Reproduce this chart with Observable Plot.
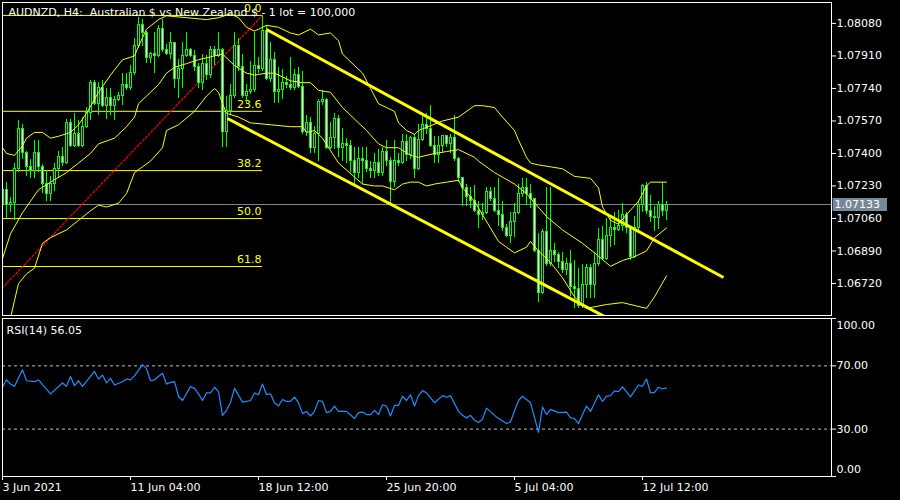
<!DOCTYPE html>
<html><head><meta charset="utf-8">
<script src="https://cdn.jsdelivr.net/npm/d3@7"></script>
<script src="https://cdn.jsdelivr.net/npm/@observablehq/plot@0.6"></script>
<style>
html,body{margin:0;padding:0;background:#000;overflow:hidden;}
#chart svg{display:block;}
</style></head><body><div id="chart"></div>
<script>
// ---- data (H4 bars, index 0 = 3 Jun 20:00) ----
const openP = [1.0713,1.0721,1.0713,1.0714,1.0732,1.0753,1.0740,1.0733,1.0731,1.0740,
1.0733,1.0724,1.0719,1.0724,1.0732,1.0738,1.0735,1.0756,1.0744,1.0750,
1.0744,1.0754,1.0761,1.0777,1.0766,1.0774,1.0765,1.0769,1.0765,1.0768,
1.0770,1.0776,1.0774,1.0782,1.0796,1.0807,1.0803,1.0790,1.0792,1.0791,
1.0805,1.0794,1.0792,1.0798,1.0779,1.0784,1.0791,1.0794,1.0791,1.0785,
1.0777,1.0787,1.0781,1.0794,1.0791,1.0794,1.0751,1.0762,1.0770,1.0796,
1.0785,1.0770,1.0772,1.0773,1.0786,1.0784,1.0804,1.0779,1.0789,1.0772,
1.0773,1.0777,1.0776,1.0774,1.0781,1.0775,1.0751,1.0756,1.0743,1.0750,
1.0767,1.0768,1.0743,1.0748,1.0758,1.0743,1.0745,1.0744,1.0736,1.0730,
1.0737,1.0736,1.0732,1.0731,1.0735,1.0730,1.0741,1.0736,1.0725,1.0736,
1.0735,1.0746,1.0739,1.0748,1.0732,1.0747,1.0755,1.0753,1.0744,1.0739,
1.0744,1.0749,1.0745,1.0748,1.0737,1.0727,1.0722,1.0717,1.0715,1.0710,
1.0708,1.0709,1.0720,1.0716,1.0710,1.0708,1.0701,1.0697,1.0704,1.0709,
1.0719,1.0722,1.0719,1.0716,1.0689,1.0667,1.0699,1.0682,1.0689,1.0687,
1.0683,1.0679,1.0682,1.0670,1.0669,1.0660,1.0671,1.0680,1.0671,1.0682,
1.0695,1.0685,1.0697,1.0701,1.0700,1.0702,1.0708,1.0701,1.0686,1.0701,
1.0713,1.0723,1.0710,1.0707,1.0706,1.0713,1.0710];
const highP = [1.0723,1.0725,1.0717,1.0735,1.0757,1.0755,1.0741,1.0737,1.0747,1.0747,
1.0734,1.0731,1.0728,1.0735,1.0741,1.0743,1.0758,1.0758,1.0761,1.0757,
1.0759,1.0764,1.0778,1.0778,1.0777,1.0778,1.0774,1.0774,1.0770,1.0772,
1.0782,1.0782,1.0786,1.0800,1.0811,1.0810,1.0804,1.0793,1.0803,1.0807,
1.0810,1.0797,1.0803,1.0798,1.0789,1.0798,1.0803,1.0795,1.0794,1.0787,
1.0792,1.0791,1.0796,1.0796,1.0803,1.0795,1.0770,1.0776,1.0803,1.0800,
1.0792,1.0776,1.0788,1.0803,1.0790,1.0812,1.0807,1.0798,1.0793,1.0785,
1.0784,1.0780,1.0790,1.0784,1.0785,1.0783,1.0760,1.0759,1.0754,1.0768,
1.0773,1.0769,1.0756,1.0761,1.0760,1.0753,1.0748,1.0747,1.0743,1.0743,
1.0743,1.0743,1.0736,1.0740,1.0742,1.0743,1.0747,1.0738,1.0747,1.0740,
1.0750,1.0750,1.0749,1.0750,1.0755,1.0760,1.0761,1.0765,1.0749,1.0749,
1.0749,1.0749,1.0750,1.0760,1.0738,1.0727,1.0724,1.0722,1.0723,1.0715,
1.0714,1.0722,1.0722,1.0722,1.0727,1.0715,1.0703,1.0709,1.0714,1.0724,
1.0727,1.0727,1.0724,1.0716,1.0698,1.0700,1.0722,1.0722,1.0693,1.0688,
1.0688,1.0685,1.0689,1.0684,1.0680,1.0682,1.0682,1.0682,1.0688,1.0701,
1.0702,1.0706,1.0707,1.0709,1.0710,1.0714,1.0709,1.0702,1.0707,1.0715,
1.0724,1.0725,1.0718,1.0712,1.0715,1.0725,1.0715];
const lowP = [1.0702,1.0706,1.0709,1.0705,1.0730,1.0737,1.0728,1.0727,1.0727,1.0730,
1.0719,1.0715,1.0715,1.0720,1.0727,1.0733,1.0734,1.0743,1.0743,1.0743,
1.0743,1.0753,1.0757,1.0765,1.0760,1.0764,1.0758,1.0760,1.0757,1.0767,
1.0765,1.0773,1.0773,1.0781,1.0795,1.0796,1.0787,1.0787,1.0782,1.0790,
1.0793,1.0791,1.0789,1.0774,1.0769,1.0774,1.0790,1.0790,1.0783,1.0774,
1.0773,1.0778,1.0779,1.0786,1.0790,1.0743,1.0743,1.0760,1.0769,1.0783,
1.0769,1.0766,1.0771,1.0772,1.0782,1.0783,1.0778,1.0777,1.0766,1.0766,
1.0768,1.0774,1.0773,1.0773,1.0774,1.0750,1.0749,1.0740,1.0740,1.0736,
1.0765,1.0742,1.0742,1.0742,1.0738,1.0736,1.0735,1.0730,1.0723,1.0727,
1.0724,1.0730,1.0727,1.0727,1.0728,1.0728,1.0733,1.0714,1.0722,1.0733,
1.0734,1.0736,1.0737,1.0727,1.0731,1.0746,1.0750,1.0743,1.0735,1.0735,
1.0740,1.0743,1.0740,1.0736,1.0725,1.0712,1.0712,1.0711,1.0709,1.0701,
1.0705,1.0708,1.0715,1.0709,1.0702,1.0699,1.0696,1.0693,1.0696,1.0708,
1.0717,1.0713,1.0711,1.0688,1.0662,1.0666,1.0681,1.0681,1.0683,1.0680,
1.0677,1.0676,1.0665,1.0659,1.0659,1.0659,1.0664,1.0664,1.0664,1.0681,
1.0684,1.0684,1.0691,1.0692,1.0699,1.0699,1.0698,1.0684,1.0685,1.0698,
1.0709,1.0708,1.0704,1.0699,1.0700,1.0707,1.0705];
const closeP = [1.0721,1.0713,1.0714,1.0732,1.0753,1.0740,1.0733,1.0731,1.0740,1.0733,
1.0724,1.0719,1.0724,1.0732,1.0738,1.0735,1.0756,1.0744,1.0750,1.0744,
1.0754,1.0761,1.0777,1.0766,1.0774,1.0765,1.0769,1.0765,1.0768,1.0770,
1.0776,1.0774,1.0782,1.0796,1.0807,1.0803,1.0790,1.0792,1.0791,1.0805,
1.0794,1.0792,1.0798,1.0779,1.0784,1.0791,1.0794,1.0791,1.0785,1.0777,
1.0787,1.0781,1.0794,1.0791,1.0794,1.0751,1.0762,1.0770,1.0796,1.0785,
1.0770,1.0772,1.0773,1.0786,1.0784,1.0804,1.0779,1.0789,1.0772,1.0773,
1.0777,1.0776,1.0774,1.0781,1.0775,1.0751,1.0756,1.0743,1.0750,1.0767,
1.0768,1.0743,1.0748,1.0758,1.0743,1.0745,1.0744,1.0736,1.0730,1.0737,
1.0736,1.0732,1.0731,1.0735,1.0730,1.0741,1.0736,1.0725,1.0736,1.0735,
1.0746,1.0739,1.0748,1.0732,1.0747,1.0755,1.0753,1.0744,1.0739,1.0744,
1.0749,1.0745,1.0748,1.0737,1.0727,1.0722,1.0717,1.0715,1.0710,1.0708,
1.0709,1.0720,1.0716,1.0710,1.0708,1.0701,1.0697,1.0704,1.0709,1.0719,
1.0722,1.0719,1.0716,1.0689,1.0667,1.0699,1.0682,1.0689,1.0687,1.0683,
1.0679,1.0682,1.0670,1.0669,1.0660,1.0671,1.0680,1.0671,1.0682,1.0695,
1.0685,1.0697,1.0701,1.0700,1.0702,1.0708,1.0701,1.0686,1.0701,1.0713,
1.0723,1.0710,1.0707,1.0706,1.0713,1.0710,1.07133];

// Bollinger-style envelope lines: [bar index, price]
const upperBand = [[0,1.0743],[1,1.0740],[3,1.0739],[5,1.0744],[6,1.0748],[8,1.0751],[10,1.0751],[12,1.0748],[14,1.0749],[17,1.0751],[19,1.0755],[21,1.0761],[24,1.0772],[27,1.0781],[30,1.0789],[33,1.0791],[34,1.0796],[36,1.0805],[39,1.0810],[41,1.0812],[46,1.0811],[51,1.0810],[54,1.0811],[57,1.0813],[59,1.0811],[61,1.0806],[63,1.0804],[64,1.0805],[66,1.0807],[69,1.0806],[72,1.0803],[74,1.0802],[77,1.0805],[79,1.0802],[82,1.0803],[84,1.0799],[85,1.0792],[88,1.0786],[90,1.0782],[92,1.0774],[94,1.0766],[96,1.0764],[98,1.0762],[99,1.0756],[101,1.0752],[103,1.0750],[104,1.0752],[110,1.0757],[114,1.0759],[118,1.0765],[120,1.0765],[123,1.0764],[125,1.0759],[128,1.0752],[129,1.0747],[131,1.0738],[132,1.0735],[134,1.0734],[140,1.0732],[143,1.0728],[147,1.0727],[149,1.0722],[150,1.0712],[152,1.0705],[154,1.0703],[156,1.0708],[159,1.0715],[161,1.0723],[162,1.0725],[166,1.0725]];
const middleBand = [[0,1.0685],[2,1.0698],[5,1.0709],[7,1.0715],[9,1.0721],[12,1.0725],[16,1.0730],[19,1.0735],[22,1.0740],[24,1.0745],[28,1.0748],[31,1.0754],[33,1.0759],[34,1.0766],[36,1.0770],[39,1.0776],[41,1.0782],[43,1.0785],[46,1.0787],[49,1.0789],[53,1.0791],[55,1.0792],[58,1.0786],[61,1.0782],[63,1.0781],[66,1.0782],[68,1.0782],[70,1.0780],[72,1.0778],[75,1.0777],[77,1.0777],[79,1.0773],[82,1.0772],[85,1.0764],[89,1.0756],[91,1.0752],[94,1.0745],[96,1.0743],[99,1.0743],[102,1.0739],[104,1.0738],[108,1.0740],[111,1.0741],[114,1.0742],[118,1.0738],[119,1.0736],[123,1.0730],[128,1.0724],[131,1.0719],[136,1.0707],[140,1.0700],[145,1.0693],[148,1.0688],[152,1.0681],[155,1.0684],[158,1.0686],[161,1.0689],[163,1.0696],[166,1.0701]];
const lowerBand = [[2,1.0654],[3,1.0663],[4,1.0672],[6,1.0677],[8,1.0680],[10,1.0693],[12,1.0696],[16,1.0700],[19,1.0705],[22,1.0710],[24,1.0713],[26,1.0712],[29,1.0714],[31,1.0719],[33,1.0730],[35,1.0733],[37,1.0736],[40,1.0743],[41,1.0752],[44,1.0755],[48,1.0762],[51,1.0770],[53,1.0774],[54,1.0772],[55,1.0766],[56,1.0761],[59,1.0759],[62,1.0756],[67,1.0755],[72,1.0754],[75,1.0754],[76,1.0751],[78,1.0752],[80,1.0748],[84,1.0735],[90,1.0724],[93,1.0723],[95,1.0723],[98,1.0721],[100,1.0724],[102,1.0725],[104,1.0725],[106,1.0723],[108,1.0724],[111,1.0725],[114,1.0726],[115,1.0722],[118,1.0715],[120,1.0708],[122,1.0701],[124,1.0694],[126,1.0691],[128,1.0688],[131,1.0691],[132,1.0694],[134,1.0689],[137,1.0683],[140,1.0675],[143,1.0665],[146,1.0659],[151,1.0661],[155,1.0662],[161,1.0659],[163,1.0665],[166,1.0676]];

// RSI(14): [bar index, value]
const rsiPoints = [[0,56.5],[1,61.2],[2,58.5],[3,57.1],[5,67.5],[6,60.6],[8,60.0],[9,61.2],[12,52.3],[15,59.2],[16,57.1],[17,63.3],[18,57.5],[19,60.6],[20,57.1],[23,66.5],[24,61.7],[25,64.2],[26,59.2],[27,62.1],[28,57.9],[30,60.0],[31,61.7],[32,61.2],[33,63.7],[35,70.8],[36,68.3],[37,60.6],[38,61.2],[40,65.4],[41,58.5],[42,59.6],[43,60.0],[44,50.8],[45,48.1],[47,56.9],[48,55.8],[49,52.3],[50,48.1],[51,52.9],[52,52.9],[53,56.5],[54,53.7],[55,38.7],[56,41.9],[57,46.7],[58,55.8],[60,47.1],[61,47.5],[62,48.1],[63,52.9],[64,51.7],[65,58.5],[66,51.9],[67,52.3],[68,46.7],[69,44.6],[70,48.7],[71,47.5],[72,47.5],[73,50.2],[74,46.7],[75,39.8],[76,41.2],[77,38.3],[78,41.2],[79,48.1],[80,47.5],[81,40.4],[82,41.2],[83,44.6],[84,41.2],[86,41.2],[88,36.7],[89,40.4],[90,40.8],[91,39.2],[92,39.2],[93,41.9],[94,39.2],[95,45.4],[96,44.6],[97,38.3],[98,45.0],[99,45.0],[100,50.8],[101,48.1],[102,51.7],[103,44.6],[104,51.2],[105,54.4],[106,52.9],[108,46.7],[110,51.2],[111,50.2],[112,51.2],[114,41.2],[115,38.7],[116,37.1],[117,38.7],[118,35.6],[119,34.2],[120,36.2],[121,43.3],[123,38.7],[124,36.7],[126,33.5],[127,34.6],[129,48.1],[130,50.8],[132,46.7],[134,27.9],[135,44.0],[136,39.2],[137,42.5],[139,40.4],[141,40.8],[142,37.1],[143,36.7],[144,33.5],[146,44.6],[147,41.2],[149,51.7],[150,47.5],[151,50.8],[152,51.2],[153,54.2],[154,53.7],[155,56.7],[157,50.4],[159,57.9],[160,57.1],[161,61.7],[162,52.9],[163,53.3],[164,56.5],[165,55.4],[166,56.05]];
const rsiLast = 56.05;

const priceTicks = [1.0808, 1.0791, 1.0774, 1.0757, 1.0740, 1.0723, 1.0706, 1.0689, 1.0672];
const rsiTicks = [0, 30, 70, 100];
const rsiLevels = [30, 70];
const timeTickIdx = [0, 32, 64, 96, 128, 160];
const timeTickLabels = ["3 Jun 2021", "11 Jun 04:00", "18 Jun 12:00", "25 Jun 20:00", "5 Jul 04:00", "12 Jul 12:00"];

// Fibonacci retracement anchors
const fibLevels = [0, 23.6, 38.2, 50.0, 61.8];
const fibLowIdx = -32, fibLowPrice = 1.05997;
const fibHighIdx = 65, fibHighPrice = 1.08122;

// Channel (two trend lines)
const chanStartIdx = [66, 56.25];
const chanStartPrice = [1.08048, 1.07583];
const chanEndIdx = [180.25, 160];
const chanEndPrice = [1.06751, 1.06443];

const lastPrice = 1.07133;
const titleText = "AUDNZD, H4:  Australian $ vs New Zealand $ - 1 lot = 100,000";
const rsiTitle = "RSI(14) " + rsiLast.toFixed(2);

// ---- build ----
const xDomain = [0, 207.25];
const priceDomain = [1.0655255, 1.081895];
const FONT = {background: "#000", color: "#fff", fontFamily: "DejaVu Sans", fontSize: "11px"};

const bars = openP.map((o, i) => ({i, o, h: highP[i], l: lowP[i], c: closeP[i]}));
const fibRows = fibLevels.map(level => ({level, price: fibHighPrice - (fibHighPrice - fibLowPrice) * level / 100}));
const chanRows = chanStartIdx.map((s, k) => ({i1: s, p1: chanStartPrice[k], i2: chanEndIdx[k], p2: chanEndPrice[k]}));
const labelMap = new Map(timeTickIdx.map((d, k) => [d, timeTickLabels[k]]));

const YEL = "#ffff00", LIME = "#00ff00", GRAY = "#778899";

const main = Plot.plot({
  width: 900, height: 318,
  marginLeft: 2, marginRight: 69, marginTop: 2, marginBottom: 3,
  style: FONT,
  x: {domain: xDomain, axis: null, label: null},
  y: {domain: priceDomain, axis: null, label: null},
  marks: [
    Plot.ruleY([lastPrice], {y: d => d, stroke: GRAY}),
    Plot.ruleY(fibRows, {y: "price", x1: () => fibLowIdx, x2: () => fibHighIdx, stroke: YEL, clip: true}),
    Plot.link([0], {x1: () => fibLowIdx, y1: () => fibLowPrice, x2: () => fibHighIdx, y2: () => fibHighPrice, stroke: "#ff0000", strokeWidth: 1.2, strokeDasharray: "3,1", clip: true}),
    Plot.text(fibRows, {x: () => fibHighIdx, y: "price", text: d => d.level.toFixed(1), textAnchor: "end", dx: -1, dy: -7, fill: YEL}),
    Plot.ruleX(bars, {x: "i", y1: "l", y2: "h", stroke: LIME, shapeRendering: "crispEdges", clip: true}),
    Plot.rect(bars, {x1: d => d.i - 0.25, x2: d => d.i + 0.25, y1: "o", y2: "c", fill: d => d.c < d.o ? "#ffffff" : "#000000", stroke: LIME, shapeRendering: "crispEdges", clip: true}),
    Plot.line(upperBand, {x: d => d[0], y: d => d[1], stroke: YEL, strokeWidth: 1, clip: true}),
    Plot.line(middleBand, {x: d => d[0], y: d => d[1], stroke: YEL, strokeWidth: 1, clip: true}),
    Plot.line(lowerBand, {x: d => d[0], y: d => d[1], stroke: YEL, strokeWidth: 1, clip: true}),
    Plot.link(chanRows, {x1: "i1", y1: "p1", x2: "i2", y2: "p2", stroke: YEL, strokeWidth: 3, clip: true}),
    Plot.text([titleText], {frameAnchor: "top-left", text: d => d, dx: 6, dy: 6, lineAnchor: "top", fill: "#ffffff"}),
    Plot.frame({stroke: "#ffffff"}),
    Plot.axisY(priceTicks, {anchor: "right", tickSize: 4, tickPadding: 1, tickFormat: d => d.toFixed(5), stroke: "#ffffff", fill: "#ffffff", label: null}),
    Plot.ruleY([lastPrice], {y: d => d, x1: () => xDomain[1] + 0.4, x2: () => xDomain[1] + 14, stroke: GRAY, strokeWidth: 13}),
    Plot.text([lastPrice], {frameAnchor: "right", y: d => d, text: d => d.toFixed(5), textAnchor: "start", dx: 3, fill: "#ffffff"})
  ]
});

const rsi = Plot.plot({
  width: 900, height: 182,
  marginLeft: 2, marginRight: 69, marginTop: 0, marginBottom: 24,
  style: FONT,
  x: {domain: xDomain, axis: null, label: null},
  y: {domain: [0, 100], axis: null, label: null},
  marks: [
    Plot.ruleY(rsiLevels, {y: d => d, stroke: "#c0c0c0", strokeDasharray: "3,3"}),
    Plot.line(rsiPoints, {x: d => d[0], y: d => d[1], stroke: "#1e90ff", strokeWidth: 1.2, clip: true}),
    Plot.text([rsiTitle], {frameAnchor: "top-left", text: d => d, dx: 4, dy: 8, lineAnchor: "top", fill: "#ffffff"}),
    Plot.frame({stroke: "#ffffff"}),
    Plot.axisY(rsiTicks, {anchor: "right", tickSize: 4, tickFormat: () => "", stroke: "#ffffff", label: null}),
    Plot.text(rsiLevels, {frameAnchor: "right", y: d => d, text: d => d.toFixed(2), textAnchor: "start", dx: 5, fill: "#ffffff"}),
    Plot.text([rsiTicks[3]], {frameAnchor: "right", y: d => d, text: d => d.toFixed(2), textAnchor: "start", dx: 5, dy: 7, fill: "#ffffff"}),
    Plot.text([rsiTicks[0]], {frameAnchor: "right", y: d => d, text: d => d.toFixed(2), textAnchor: "start", dx: 5, dy: -7, fill: "#ffffff"}),
    Plot.axisX(timeTickIdx, {anchor: "bottom", tickSize: 4, tickPadding: 3, textAnchor: "start", dx: 0, tickFormat: d => labelMap.get(d), stroke: "#ffffff", fill: "#ffffff", label: null})
  ]
});

const host = document.getElementById("chart");
host.appendChild(main);
host.appendChild(rsi);
</script>
</body></html>
